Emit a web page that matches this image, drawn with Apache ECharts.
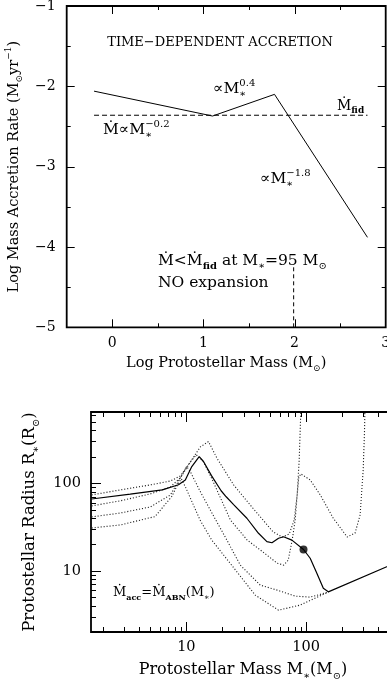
<!DOCTYPE html>
<html>
<head>
<meta charset="utf-8">
<title>Accretion rate and protostellar radius</title>
<script src="https://cdn.jsdelivr.net/npm/echarts@6.0.0/dist/echarts.min.js"></script>
<style>
  html, body { margin: 0; padding: 0; background: #fff; }
  #chart { width: 387px; height: 681px; }
</style>
</head>
<body>
<div id="chart"></div>
<script>
// upper panel: log accretion rate against log mass
const rateLogMass = [-0.2, 1.1, 1.78, 2.8];
const rateLogMdot = [-2.06, -2.37, -2.1, -3.88];
const fidLogMass = [-0.2, 2.8];
const fidLogMdot = [-2.36, -2.36];
const noExpLogMass = [1.99, 1.99];
const noExpLogMdot = [-5, -4.24];
const upperXTicks = [0, 1, 2];
const upperXMinor = [0.5, 1.5, 2.5];
const upperYTicks = [-4, -3, -2];
const upperYMinor = [-4.5, -3.5, -2.5, -1.5];

// lower panel: radius against mass, both log
const abnMass = [1.62, 3.4, 6.3, 8.6, 9.8, 11.1, 12.8, 13.9, 16.2, 19.5, 21.5, 24.8, 32, 40, 47, 51.8, 58.8, 64.7, 76, 95, 108, 123, 139, 153, 470, 1000];
const abnRadius = [66, 75, 84, 96, 109, 155, 201, 177, 122, 82, 70, 57, 39.8, 26.8, 21.5, 20.9, 23.5, 24.5, 22.4, 17.5, 13.9, 9.3, 6.3, 5.75, 11.1, 17.3];
const markMass = [95];
const markRadius = [17.5];

const trackAMass = [1.62, 2.82, 5.01, 7.36, 8.91, 10.8, 13.1, 15.3, 18.0, 24.8, 34.1, 53.1, 63.1, 72.2, 79.4, 84.1, 87.4, 89.1, 90.9];
const trackARadius = [73.5, 83.8, 95.6, 106, 121, 175, 260, 299, 193, 95.6, 56.4, 27.7, 24.3, 26.3, 38, 73.5, 185, 407, 900];
const trackBMass = [1.62, 2.82, 5.01, 7.36, 8.91, 10.8, 12.1, 13.9, 16.5, 23.3, 32.2, 41.4, 57.3, 64.9, 70.8, 76.4, 81, 84.1, 86.6, 90, 95, 108, 131, 168, 220, 256, 282, 299, 307, 310];
const trackBRadius = [55, 63, 75.5, 90.7, 115, 175, 211, 175, 109, 38, 22.4, 17.3, 12.2, 11.6, 13.2, 22.4, 38, 73.5, 115, 128, 122, 109, 73.5, 40, 24.3, 27, 43.5, 142, 407, 900];
const trackCMass = [1.62, 2.82, 5.01, 7.36, 8.91, 10.06, 10.8, 13.1, 17.6, 21.1, 28.2, 41.4, 57.3, 81, 108, 153];
const trackCRadius = [41.2, 45.7, 53.6, 73.5, 115, 155, 135, 79.6, 38, 24.3, 11.6, 6.86, 6.01, 5.14, 5.0, 5.71];
const trackDMass = [1.62, 2.82, 5.48, 7.54, 8.58, 9.08, 9.81, 13.0, 16.3, 24.6, 37.6, 58.8, 89.1, 153];
const trackDRadius = [30.8, 33.4, 41.6, 70.3, 100, 112, 91, 38, 22.4, 11.0, 5.27, 3.55, 4.06, 5.71];

const lowerXTicks = [10, 100, 1000];
const lowerXMinor = [2, 3, 4, 5, 6, 7, 8, 9, 20, 30, 40, 50, 60, 70, 80, 90, 200, 300, 400, 500, 600, 700, 800, 900];
const lowerYTicks = [10, 100];
const lowerYMinor = [3, 4, 5, 6, 7, 8, 9, 20, 30, 40, 50, 60, 70, 80, 90, 200, 300, 400, 500, 600];

const FONT = 'DejaVu Serif';
const zip = (xs, ys) => xs.map((x, i) => [x, ys[i]]);
const isWhole = v => Math.abs(v - Math.round(v)) < 1e-9;
const isDecade = v => isWhole(Math.log10(v));

// sub / superscript styles for rich text
function scripts(size) {
  const s = Math.round(size * 0.62);
  const base = { fontFamily: FONT, fontSize: s, lineHeight: s, color: '#000', fill: '#000' };
  return {
    sub: Object.assign({}, base, { verticalAlign: 'bottom' }),
    sup: Object.assign({}, base, { verticalAlign: 'top' }),
    subb: Object.assign({}, base, { verticalAlign: 'bottom', fontWeight: 'bold' }),
    star: Object.assign({}, base, { verticalAlign: 'bottom', lineHeight: s * 0.6, width: 0 })
  };
}

function note(x, y, text, size, align) {
  return {
    type: 'text', x: x, y: y, silent: true,
    style: {
      text: text, fill: '#000', fontFamily: FONT, fontSize: size,
      lineHeight: Math.round(size * 1.35), align: align || 'left', verticalAlign: 'middle',
      rich: scripts(size)
    }
  };
}

const labelStyle = size => ({ fontFamily: FONT, fontSize: size, color: '#000' });
const nameStyle = size => ({ fontFamily: FONT, fontSize: size, color: '#000', lineHeight: Math.round(size * 1.35), rich: scripts(size) });
const dotted = { color: '#222', width: 1.1, type: [1.1, 1.9] };

const chart = echarts.init(document.getElementById('chart'));
const option = {
  animation: false,
  backgroundColor: '#fff',
  grid: [
    { left: 66.7, top: 6, right: 1.3, bottom: 353.7, show: true, borderColor: '#000', borderWidth: 1.8,
      containLabel: false, outerBoundsMode: 'none' },
    { left: 91, top: 412, right: -39, bottom: 49, show: true, borderColor: '#000', borderWidth: 1.8,
      containLabel: false, outerBoundsMode: 'none' }
  ],
  xAxis: [
    {
      gridIndex: 0, type: 'value', min: -0.5, max: 3, interval: 0.5,
      axisLine: { show: false }, axisTick: { show: false }, splitLine: { show: false },
      axisLabel: { margin: 9, ...labelStyle(14), formatter: v => isWhole(v) ? String(v) : '' },
      name: 'Log Protostellar Mass (M{sub|⊙})', nameLocation: 'middle', nameGap: 26,
      nameTextStyle: nameStyle(14.5)
    },
    {
      gridIndex: 1, type: 'log', logBase: 10, min: 1.6, max: 1000,
      axisLine: { show: false }, axisTick: { show: false }, splitLine: { show: false },
      axisLabel: { margin: 8, ...labelStyle(14.5), formatter: v => isDecade(v) ? String(Math.round(v)) : '' },
      name: 'Protostellar Mass M{sub|∗}(M{sub|⊙})', nameLocation: 'middle', nameGap: 27,
      // grid runs past the right edge, so pull the title back to the visible centre
      nameTextStyle: Object.assign(nameStyle(16), { padding: [0, 31, 0, 0] })
    }
  ],
  yAxis: [
    {
      gridIndex: 0, type: 'value', min: -5, max: -1, interval: 0.5,
      axisLine: { show: false }, axisTick: { show: false }, splitLine: { show: false },
      axisLabel: { margin: 11, ...labelStyle(14), formatter: v => isWhole(v) ? (v < 0 ? '\u2212' : '') + Math.abs(Math.round(v)) : '' },
      name: 'Log Mass Accretion Rate (M{sub|⊙}yr{sup|\u22121})', nameLocation: 'middle', nameGap: 34,
      nameTextStyle: nameStyle(14.5)
    },
    {
      gridIndex: 1, type: 'log', logBase: 10, min: 2, max: 650,
      axisLine: { show: false }, axisTick: { show: false }, splitLine: { show: false },
      axisLabel: { margin: 10, ...labelStyle(14.5), formatter: v => isDecade(v) ? String(Math.round(v)) : '' },
      name: 'Protostellar Radius R{sub|∗}(R{sub|⊙})', nameLocation: 'middle', nameGap: 50,
      nameTextStyle: nameStyle(16.5)
    }
  ],
  series: [
    { type: 'line', xAxisIndex: 0, yAxisIndex: 0, data: zip(rateLogMass, rateLogMdot), showSymbol: false,
      lineStyle: { color: '#000', width: 1 } },
    { type: 'line', xAxisIndex: 0, yAxisIndex: 0, data: zip(fidLogMass, fidLogMdot), showSymbol: false,
      lineStyle: { color: '#000', width: 1, type: [5, 3] } },
    { type: 'line', xAxisIndex: 0, yAxisIndex: 0, data: zip(noExpLogMass, noExpLogMdot), showSymbol: false,
      lineStyle: { color: '#000', width: 1, type: [4, 3] } },

    { type: 'line', xAxisIndex: 1, yAxisIndex: 1, data: zip(trackAMass, trackARadius), showSymbol: false, lineStyle: dotted },
    { type: 'line', xAxisIndex: 1, yAxisIndex: 1, data: zip(trackBMass, trackBRadius), showSymbol: false, lineStyle: dotted },
    { type: 'line', xAxisIndex: 1, yAxisIndex: 1, data: zip(trackCMass, trackCRadius), showSymbol: false, lineStyle: dotted },
    { type: 'line', xAxisIndex: 1, yAxisIndex: 1, data: zip(trackDMass, trackDRadius), showSymbol: false, lineStyle: dotted },
    { type: 'line', xAxisIndex: 1, yAxisIndex: 1, data: zip(abnMass, abnRadius), showSymbol: false,
      lineStyle: { color: '#000', width: 1.2 }, z: 3 },
    { type: 'scatter', xAxisIndex: 1, yAxisIndex: 1, data: zip(markMass, markRadius), symbolSize: 8,
      itemStyle: { color: '#000' }, z: 5 }
  ]
};
chart.setOption(option);

// inward ticks on all four sides, placed through each grid's own axes
function tickMarks(gi, xr, yr, xMaj, xMin, yMaj, yMin, longLen, shortLen) {
  const px = p => chart.convertToPixel({ gridIndex: gi }, p);
  const bl = px([xr[0], yr[0]]);
  const tr = px([xr[1], yr[1]]);
  const seg = (x1, y1, x2, y2) => ({
    type: 'line', silent: true, z: 10,
    shape: { x1: x1, y1: y1, x2: x2, y2: y2 }, style: { stroke: '#000', lineWidth: 1 }
  });
  const out = [];
  xMaj.map(v => [v, longLen]).concat(xMin.map(v => [v, shortLen])).forEach(t => {
    const x = Math.round(px([t[0], yr[0]])[0]) + 0.5;
    out.push(seg(x, bl[1], x, bl[1] - t[1]), seg(x, tr[1], x, tr[1] + t[1]));
  });
  yMaj.map(v => [v, longLen]).concat(yMin.map(v => [v, shortLen])).forEach(t => {
    const y = Math.round(px([xr[0], t[0]])[1]) + 0.5;
    out.push(seg(bl[0], y, bl[0] + t[1], y), seg(tr[0], y, tr[0] - t[1], y));
  });
  return out;
}

const notes = [
  note(220, 43, 'TIME\u2212DEPENDENT ACCRETION', 13, 'center'),
  note(213, 89, '\u221DM{star|\u2217}{sup|0.4}', 15.5),
  note(337, 106, '\u1E40{subb|fid}', 14),
  note(103, 130, '\u1E40\u221DM{star|\u2217}{sup|\u22120.2}', 15.5),
  note(260, 179, '\u221DM{star|\u2217}{sup|\u22121.8}', 15.5),
  note(158, 261, '\u1E40<\u1E40{subb|fid} at M{sub|\u2217}=95 M{sub|\u2299}', 15.5),
  note(158, 283, 'NO expansion', 15.5),
  note(113, 593, '\u1E40{subb|acc}=\u1E40{subb|ABN}(M{sub|\u2217})', 13)
];

chart.setOption({
  graphic: notes
    .concat(tickMarks(0, [-0.5, 3], [-5, -1], upperXTicks, upperXMinor, upperYTicks, upperYMinor, 8, 4))
    .concat(tickMarks(1, [1.6, 1000], [2, 650], lowerXTicks, lowerXMinor, lowerYTicks, lowerYMinor, 10, 5))
});
</script>
</body>
</html>
